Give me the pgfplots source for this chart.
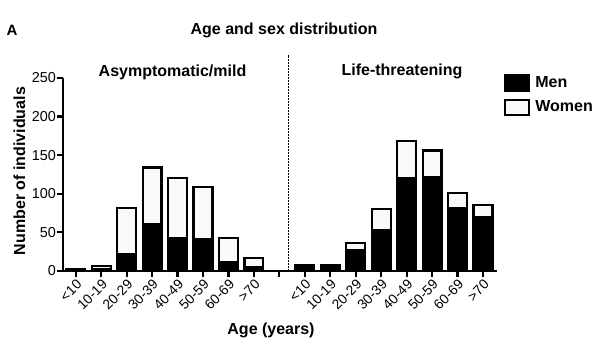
\documentclass[border=0pt]{standalone}
\usepackage{pgfplots}
\pgfplotsset{compat=1.18}
\usepackage{pgfplotstable}
\usepackage{fontspec}
\setmainfont{Liberation Sans}

\pgfplotstableread{
x men women
0 3 0
1 2 4
2 22 60
3 61 73
4 42 78
5 41 68
6 11 32
7 5 12
9 5 2
10 8 0
11 27 9
12 53 27
13 120 48
14 121 35
15 82 19
16 70 15
}\agedata

\begin{document}
\begin{tikzpicture}[x=1pt,y=1pt]
\useasboundingbox (0,0) rectangle (600,350);
\begin{axis}[
  at={(63pt,79pt)}, anchor=south west,
  scale only axis, width=434pt, height=193pt,
  xmin=-0.5, xmax=16.55, ymin=0, ymax=250,
  axis x line*=bottom, axis y line*=left,
  axis line style={-, line width=2.2pt},
  ybar stacked, bar width=0.74,
  xtick={0,...,16},
  xticklabels={<10,10-19,20-29,30-39,40-49,50-59,60-69,>70,,<10,10-19,20-29,30-39,40-49,50-59,60-69,>70},
  ytick={0,50,...,250},
  tick align=outside, major tick length=6pt,
  tick style={line width=2.2pt, black},
  ticklabel style={font=\fontsize{14.4}{16}\selectfont},
  xticklabel style={rotate=45, anchor=north east, inner sep=1pt, font=\fontsize{13.8}{16}\selectfont},
  yticklabel style={inner sep=1pt},
  /pgf/number format/assume math mode=true,
  clip=false,
  legend style={at={(1.0,1.03)}, anchor=north west, xshift=7pt, yshift=-2pt, draw=none, fill=none,
    font=\bfseries\fontsize{16}{19}\selectfont, row sep=7pt, inner sep=0pt,
    cells={anchor=west}, /tikz/every odd column/.append style={column sep=3pt}},
  legend image code/.code={\draw[#1, line width=2.2pt] (0pt,-7.5pt) rectangle (24pt,7.5pt);},
]
\addplot[fill=black, draw=black, line width=2.2pt] table[x=x, y=men] {\agedata};
\addlegendentry{Men}
\addplot[fill=black!2, draw=black, line width=2.2pt] table[x=x, y=women] {\agedata};
\addlegendentry{Women}
\draw[dash pattern=on 1.5pt off 1.5pt, line width=0.8pt] (axis cs:8.37,0) -- (axis cs:8.37,280);
\end{axis}
\node[font=\bfseries\fontsize{15}{18}\selectfont] at (12,319.5) {A};
\node[font=\bfseries\fontsize{16}{19}\selectfont] at (284,319.5) {Age and sex distribution};
\node[font=\bfseries\fontsize{16}{19}\selectfont] at (172.5,278) {Asymptomatic/mild};
\node[font=\bfseries\fontsize{16}{19}\selectfont] at (402,279) {Life-threatening};
\node[font=\bfseries\fontsize{16}{19}\selectfont, rotate=90] at (19.5,179) {Number of individuals};
\node[font=\bfseries\fontsize{16}{19}\selectfont] at (271,20) {Age (years)};
\end{tikzpicture}
\end{document}
